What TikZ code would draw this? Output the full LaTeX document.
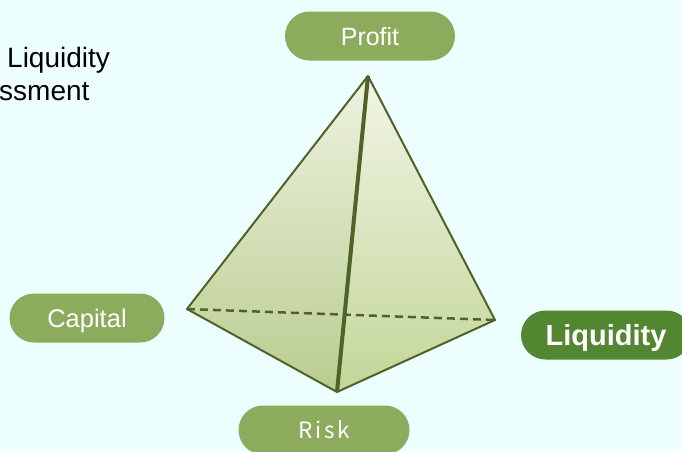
\documentclass[tikz,border=0pt]{standalone}
\usepackage{fontspec}
\setmainfont{Liberation Sans}
\newfontfamily\cjk[LetterSpace=12]{Noto Sans CJK SC}
\usetikzlibrary{shapes.misc}
\definecolor{bgcyan}{HTML}{EEFFFF}
\definecolor{pillgreen}{HTML}{8DAB5C}
\definecolor{darkgreen}{HTML}{538630}
\definecolor{edgegreen}{HTML}{4F6228}
\definecolor{facetop}{HTML}{EEF2E0}
\definecolor{facebot}{HTML}{C3D698}
\tikzset{
  pill/.style={rounded rectangle, fill=pillgreen, text=white, inner sep=0pt,
    text depth=0pt, minimum width=170pt, minimum height=49pt},
  edge/.style={draw=edgegreen, line width=2pt, line join=round}
}
\begin{document}
\begin{tikzpicture}[x=1pt, y=-1pt]
        \useasboundingbox[fill=bgcyan] (0,0) rectangle (682,451);
        % vertices
        \coordinate (top) at (368,76);
        \coordinate (lt) at (187,309);
        \coordinate (rt) at (495,320);
        \coordinate (bt) at (337,392);
        % faces
        \shade[top color=facetop, bottom color=facebot!92!edgegreen] (top) -- (lt) -- (bt) -- cycle;
        \shade[top color=facetop!80!white, bottom color=facebot] (top) -- (bt) -- (rt) -- cycle;
        % edges
        \draw[edge, line width=2.5pt, dash pattern=on 8pt off 5pt] (lt) -- (rt);
        \draw[edge] (top) -- (lt) -- (bt) -- (rt) -- cycle;
        \draw[edge, line width=4pt] (top) -- (bt);
        % labels
        \node[pill, font=\fontsize{25}{29}\selectfont] (profit) at (370,36) {Profit};
        \node[pill, minimum width=155pt, font=\fontsize{25.5}{29}\selectfont] (capital) at (87,318) {Capital};
        \node[pill, minimum width=171pt, font=\cjk\fontsize{22.5}{27}\selectfont] (risk) at (324,430) {Risk};
        \node[pill, fill=darkgreen, font=\fontsize{29}{33}\selectfont\bfseries] (liq) at (606,335) {Liquidity};
        % other
        \node[anchor=base west, inner sep=0pt, font=\fontsize{28}{32}\selectfont] (title1) at (7,67) {Liquidity};
        \node[anchor=base west, inner sep=0pt, font=\fontsize{28}{32}\selectfont] (title2) at (-1,100) {ssment};
      \end{tikzpicture}
\end{document}
